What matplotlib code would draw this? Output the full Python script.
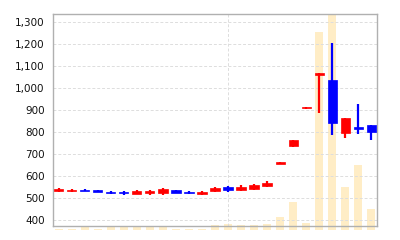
import matplotlib
matplotlib.use("Agg")
import matplotlib.pyplot as plt
import numpy as np

# daily OHLC (red = up, blue = down)
opens  = [530, 531, 537, 537, 529, 528, 520, 522, 524, 537, 527, 519, 531, 550, 537, 540, 555, 656, 735, 907, 1060, 1036, 797, 822, 832]
closes = [543, 538, 533, 527, 525, 521, 533, 533, 540, 521, 522, 528, 545, 537, 552, 560, 567, 662, 763, 913, 1066, 842, 862, 814, 802]
highs  = [545, 540, 541, 538, 534, 530, 535, 538, 545, 538, 534, 530, 549, 553, 557, 562, 576, 664, 764, 915, 1068, 1203, 862, 926, 832]
lows   = [527, 528, 530, 526, 520, 516, 517, 512, 515, 521, 517, 516, 528, 529, 534, 536, 549, 656, 730, 906, 888, 786, 773, 790, 765]
volume = [100, 100, 300, 100, 300, 300, 300, 300, 300, 100, 100, 100, 500, 600, 500, 500, 600, 1300, 2800, 700, 19800, 25000, 4300, 6500, 2100]

yticks = [400, 500, 600, 700, 800, 900, 1000, 1100, 1200, 1300]

x = np.arange(len(opens))
up_col = "#ff0000"
down_col = "#0000ff"

fig = plt.figure(figsize=(4, 2.4), dpi=100)

# volume behind the candles, baseline a little below the price frame
axv = fig.add_axes([0.1325, 0.0417, 0.81, 0.9])
axv.bar(x, volume, width=0.65, color="#ffedc6", zorder=1)
axv.set_xlim(-0.45, len(x) - 0.55)
axv.set_ylim(0, 21600)
axv.axis("off")

ax = fig.add_axes([0.1325, 0.0583, 0.81, 0.8834])
ax.patch.set_alpha(0)
for i in x:
    col = up_col if closes[i] >= opens[i] else down_col
    ax.vlines(i, lows[i], highs[i], color=col, linewidth=1.6, zorder=3)
    lo = min(opens[i], closes[i])
    h = max(abs(closes[i] - opens[i]), 2)
    ax.bar(i, h, bottom=lo, width=0.7, color=col, edgecolor=col, linewidth=0.5, zorder=4)

ax.set_xlim(-0.45, len(x) - 0.55)
ax.set_ylim(373, 1336)
ax.set_yticks(yticks)
ax.set_yticklabels(["{:,}".format(v) for v in yticks])
ax.set_xticks([13])
ax.set_xticklabels([""])
ax.tick_params(length=0, labelsize=7.5, pad=6, labelcolor="#111111")
ax.grid(True, color="#dddddd", linestyle=(0, (3, 2)), linewidth=0.7, zorder=0)
for s in ax.spines.values():
    s.set_color("#b0b0b0")
    s.set_linewidth(1)

fig.savefig("out.png", dpi=100)
